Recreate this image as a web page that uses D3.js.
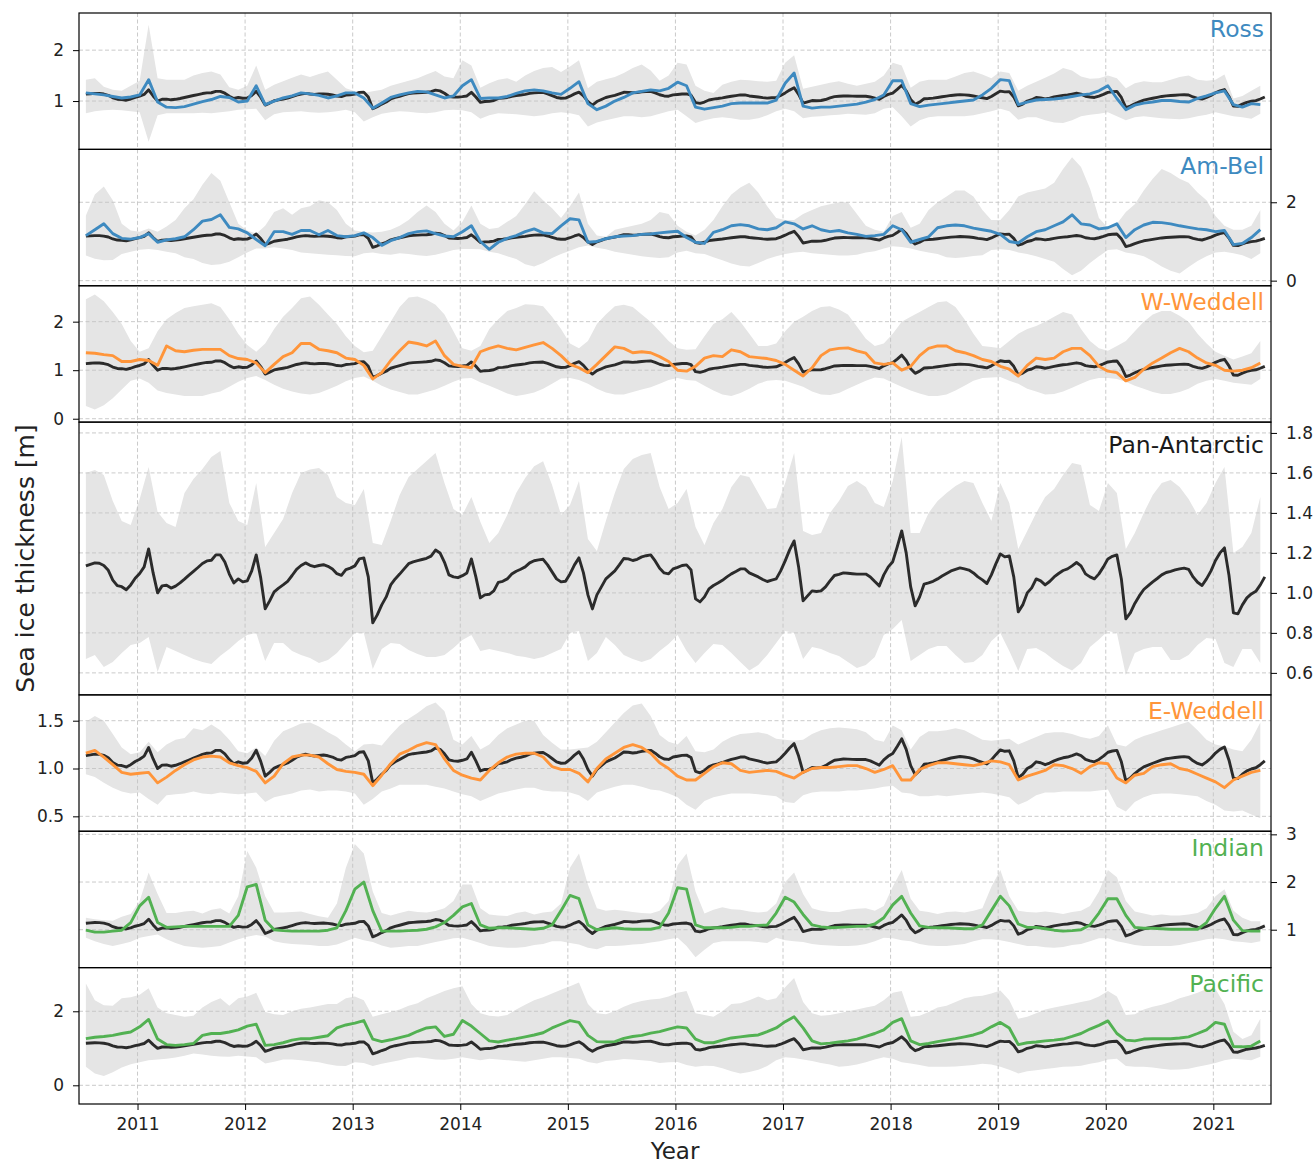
<!DOCTYPE html>
<html><head><meta charset="utf-8">
<script src="https://cdn.jsdelivr.net/npm/d3@7"></script>
<style>body{margin:0;background:#fff}</style>
</head><body><svg id="c" width="1316" height="1163"></svg>
<script>
// ---------- DATA ----------
const blackStart = 2010.52, blackStep = 1 / 24;   // semi-monthly Pan-Antarctic mean
const panAntarcticMean = [
1.135,1.143,1.15,1.148,1.137,1.113,1.064,1.036,1.031,1.016,
1.04,1.073,1.097,1.13,1.22,1.10,1.00,1.035,1.038,1.024,
1.034,1.05,1.069,1.089,1.108,1.127,1.147,1.16,1.163,1.19,
1.19,1.154,1.094,1.05,1.07,1.055,1.06,1.11,1.19,1.075,
0.92,0.96,1.005,1.024,1.04,1.058,1.087,1.118,1.137,1.15,
1.138,1.131,1.137,1.141,1.133,1.12,1.096,1.088,1.116,1.124,
1.135,1.17,1.175,1.08,0.85,0.89,0.94,0.98,1.04,1.07,
1.094,1.12,1.146,1.155,1.161,1.167,1.173,1.184,1.214,1.20,
1.153,1.09,1.08,1.076,1.086,1.10,1.17,1.08,0.975,0.99,
0.993,1.01,1.053,1.058,1.07,1.094,1.108,1.118,1.13,1.15,
1.161,1.165,1.168,1.14,1.105,1.07,1.055,1.058,1.095,1.14,
1.175,1.10,0.99,0.92,0.99,1.03,1.07,1.09,1.11,1.14,
1.172,1.17,1.162,1.168,1.18,1.186,1.19,1.16,1.123,1.10,
1.095,1.12,1.128,1.137,1.14,1.115,0.97,0.955,0.98,1.02,
1.037,1.049,1.063,1.08,1.095,1.107,1.12,1.12,1.10,1.09,
1.08,1.067,1.057,1.064,1.07,1.11,1.16,1.215,1.26,1.13,
0.96,0.985,1.01,1.007,1.01,1.03,1.06,1.087,1.093,1.10,
1.098,1.096,1.094,1.094,1.094,1.08,1.057,1.035,1.09,1.13,
1.156,1.23,1.31,1.20,1.03,0.935,0.98,1.044,1.05,1.058,
1.07,1.084,1.097,1.11,1.118,1.125,1.12,1.114,1.10,1.08,
1.065,1.047,1.09,1.145,1.195,1.18,1.185,1.08,0.905,0.94,
1.00,1.025,1.07,1.06,1.04,1.057,1.08,1.097,1.112,1.12,
1.135,1.152,1.135,1.095,1.08,1.07,1.095,1.13,1.17,1.183,
1.19,1.07,0.87,0.90,0.947,0.985,1.017,1.036,1.055,1.072,
1.09,1.102,1.108,1.115,1.12,1.124,1.118,1.08,1.053,1.037,
1.07,1.11,1.162,1.20,1.225,1.09,0.90,0.895,0.94,0.975,
0.995,1.008,1.04,1.08];

const regStart = 2010.52, regStep = 1 / 12;     // monthly regional series and spreads
const panAntarcticHigh = [
1.60,1.615,1.59,1.46,1.36,1.34,1.47,1.63,1.405,1.35,
1.33,1.50,1.57,1.62,1.68,1.71,1.45,1.36,1.34,1.55,
1.23,1.30,1.37,1.50,1.60,1.617,1.625,1.59,1.48,1.45,
1.44,1.52,1.25,1.24,1.36,1.49,1.58,1.62,1.66,1.70,
1.55,1.42,1.39,1.48,1.356,1.25,1.30,1.39,1.50,1.575,
1.633,1.658,1.54,1.39,1.44,1.56,1.27,1.21,1.36,1.50,
1.62,1.67,1.69,1.70,1.53,1.42,1.45,1.52,1.33,1.24,
1.35,1.42,1.53,1.59,1.58,1.50,1.42,1.425,1.55,1.70,
1.31,1.29,1.30,1.40,1.46,1.535,1.56,1.53,1.45,1.43,
1.56,1.78,1.30,1.30,1.40,1.46,1.50,1.535,1.56,1.55,
1.45,1.36,1.55,1.45,1.22,1.31,1.40,1.48,1.52,1.59,
1.65,1.64,1.44,1.41,1.55,1.50,1.22,1.30,1.40,1.49,
1.55,1.565,1.53,1.47,1.39,1.45,1.55,1.63,1.20,1.23,
1.30,1.48];
const panAntarcticLow = [
0.67,0.69,0.63,0.655,0.70,0.74,0.75,0.78,0.605,0.73,
0.71,0.69,0.67,0.655,0.645,0.686,0.72,0.76,0.79,0.80,
0.66,0.75,0.75,0.71,0.69,0.675,0.65,0.665,0.70,0.75,
0.80,0.80,0.62,0.72,0.75,0.745,0.715,0.694,0.68,0.68,
0.69,0.725,0.765,0.79,0.71,0.72,0.71,0.70,0.686,0.68,
0.67,0.68,0.70,0.72,0.80,0.81,0.66,0.70,0.78,0.74,
0.69,0.67,0.655,0.67,0.71,0.745,0.79,0.71,0.65,0.70,
0.745,0.74,0.70,0.655,0.612,0.64,0.69,0.75,0.81,0.80,
0.67,0.73,0.72,0.70,0.685,0.655,0.625,0.64,0.68,0.79,
0.82,0.865,0.66,0.69,0.72,0.735,0.735,0.69,0.65,0.655,
0.69,0.76,0.80,0.71,0.61,0.72,0.725,0.70,0.665,0.635,
0.612,0.65,0.73,0.767,0.81,0.80,0.59,0.70,0.72,0.73,
0.73,0.665,0.665,0.69,0.74,0.775,0.77,0.65,0.63,0.72,
0.72,0.65];

const rossMean = [
1.16,1.14,1.12,1.09,1.06,1.08,1.12,1.42,0.98,0.88,
0.87,0.89,0.94,0.99,1.03,1.09,1.07,0.98,1.00,1.30,
0.93,1.00,1.06,1.10,1.16,1.14,1.11,1.06,1.10,1.16,
1.16,1.06,0.86,0.96,1.07,1.12,1.16,1.19,1.18,1.12,
1.06,1.10,1.30,1.42,1.05,1.06,1.06,1.09,1.15,1.20,
1.22,1.20,1.16,1.13,1.25,1.38,0.95,0.83,0.90,1.00,
1.07,1.16,1.19,1.22,1.20,1.25,1.37,1.30,0.88,0.84,
0.87,0.90,0.95,0.96,0.96,0.96,0.96,1.02,1.35,1.55,
0.90,0.86,0.88,0.88,0.90,0.92,0.94,0.98,1.03,1.12,
1.40,1.40,0.95,0.89,0.92,0.94,0.96,0.98,1.00,1.02,
1.12,1.25,1.42,1.40,0.93,0.98,1.02,1.03,1.04,1.06,
1.09,1.12,1.14,1.20,1.30,1.05,0.83,0.92,0.96,0.98,
1.01,1.01,0.99,0.98,1.05,1.10,1.16,1.20,0.93,0.88,
0.95,0.93];
const rossHigh = [
1.42,1.45,1.28,1.22,1.20,1.30,1.40,2.50,1.45,1.42,
1.42,1.42,1.50,1.55,1.58,1.52,1.27,1.22,1.30,1.70,
1.22,1.32,1.39,1.46,1.52,1.47,1.53,1.58,1.42,1.25,
1.19,1.16,1.19,1.22,1.30,1.35,1.40,1.45,1.52,1.59,
1.48,1.45,1.80,1.70,1.26,1.35,1.42,1.45,1.38,1.50,
1.59,1.65,1.67,1.57,1.68,1.80,1.25,1.38,1.43,1.47,
1.55,1.65,1.72,1.60,1.40,1.50,1.75,1.72,1.30,1.20,
1.16,1.32,1.38,1.42,1.41,1.39,1.38,1.40,1.75,1.90,
1.24,1.28,1.32,1.36,1.39,1.34,1.30,1.34,1.38,1.50,
1.75,1.70,1.26,1.38,1.42,1.42,1.42,1.48,1.55,1.58,
1.52,1.45,1.58,1.55,1.20,1.30,1.38,1.46,1.54,1.65,
1.60,1.48,1.44,1.45,1.50,1.45,1.25,1.35,1.39,1.37,
1.37,1.42,1.47,1.50,1.42,1.40,1.42,1.52,1.05,1.10,
1.20,1.30];
const rossLow = [
0.76,0.80,0.82,0.83,0.82,0.80,0.78,0.20,0.72,0.76,
0.76,0.76,0.76,0.77,0.76,0.78,0.80,0.83,0.84,0.85,
0.62,0.74,0.78,0.79,0.80,0.78,0.77,0.78,0.80,0.83,
0.78,0.60,0.68,0.75,0.78,0.80,0.79,0.77,0.76,0.78,
0.82,0.83,0.82,0.78,0.65,0.72,0.76,0.75,0.74,0.72,
0.70,0.72,0.76,0.78,0.76,0.72,0.50,0.58,0.62,0.66,
0.70,0.70,0.68,0.70,0.75,0.80,0.83,0.70,0.57,0.62,
0.66,0.68,0.66,0.63,0.63,0.66,0.72,0.80,0.85,0.80,
0.66,0.69,0.70,0.72,0.73,0.75,0.74,0.73,0.76,0.85,
0.88,0.70,0.50,0.62,0.68,0.70,0.70,0.70,0.70,0.72,
0.76,0.80,0.85,0.80,0.63,0.68,0.68,0.62,0.58,0.57,
0.62,0.70,0.73,0.75,0.78,0.70,0.62,0.68,0.70,0.68,
0.66,0.65,0.64,0.66,0.70,0.73,0.78,0.74,0.70,0.68,
0.65,0.75];

const amBelMean = [
1.15,1.30,1.45,1.20,1.08,1.06,1.10,1.20,0.98,1.04,
1.07,1.12,1.30,1.52,1.56,1.68,1.36,1.32,1.22,1.05,
0.89,1.25,1.25,1.18,1.28,1.28,1.17,1.28,1.15,1.12,
1.15,1.22,1.10,0.90,1.02,1.10,1.20,1.25,1.27,1.20,
1.14,1.12,1.25,1.40,1.00,0.80,0.98,1.08,1.15,1.25,
1.32,1.22,1.20,1.40,1.58,1.55,0.98,1.00,1.07,1.12,
1.14,1.15,1.18,1.19,1.22,1.24,1.26,1.10,0.98,0.95,
1.23,1.30,1.40,1.43,1.40,1.32,1.30,1.35,1.50,1.45,
1.32,1.40,1.30,1.25,1.28,1.22,1.18,1.13,1.15,1.18,
1.40,1.30,0.98,1.05,1.12,1.35,1.40,1.42,1.40,1.34,
1.30,1.26,1.18,1.00,0.96,1.12,1.25,1.30,1.40,1.50,
1.68,1.45,1.42,1.32,1.35,1.45,1.10,1.30,1.42,1.49,
1.48,1.45,1.40,1.36,1.32,1.30,1.25,1.28,0.92,0.95,
1.10,1.30];
const amBelHigh = [
1.66,2.20,2.40,2.05,1.45,1.28,1.25,1.33,1.25,1.38,
1.55,1.85,2.08,2.45,2.75,2.55,2.00,1.45,1.28,1.20,
1.40,1.75,1.85,1.68,1.85,1.90,2.05,2.00,1.80,1.45,
1.28,1.25,1.23,1.25,1.30,1.40,1.55,1.75,1.92,1.75,
1.45,1.28,1.50,1.92,1.45,1.32,1.35,1.50,1.65,1.95,
2.28,2.05,1.85,1.60,1.90,2.25,1.45,1.15,1.12,1.30,
1.35,1.40,1.45,1.55,1.75,1.70,1.40,1.25,1.15,1.30,
1.55,1.90,2.20,2.38,2.50,2.25,1.90,1.60,1.55,1.55,
1.70,1.80,1.90,1.95,2.00,2.00,1.70,1.40,1.30,1.25,
1.65,1.75,1.35,1.45,1.80,2.00,2.15,2.30,2.30,2.15,
1.80,1.55,1.55,1.80,2.15,2.25,2.30,2.35,2.50,2.85,
3.15,2.90,2.35,1.60,1.35,1.45,1.75,1.95,2.30,2.60,
2.85,2.75,2.60,2.50,2.25,2.05,1.65,1.40,1.30,1.30,
1.40,1.80];
const amBelLow = [
0.64,0.56,0.52,0.53,0.68,0.74,0.79,0.81,0.78,0.74,
0.70,0.60,0.55,0.45,0.40,0.42,0.48,0.60,0.72,0.82,
0.82,0.85,0.82,0.78,0.72,0.70,0.68,0.66,0.65,0.63,
0.62,0.70,0.72,0.68,0.66,0.70,0.68,0.65,0.63,0.66,
0.72,0.78,0.81,0.81,0.80,0.74,0.70,0.62,0.55,0.42,
0.36,0.45,0.58,0.68,0.76,0.85,0.90,0.84,0.80,0.74,
0.70,0.66,0.62,0.60,0.58,0.60,0.72,0.76,0.70,0.68,
0.60,0.52,0.44,0.38,0.36,0.45,0.55,0.62,0.68,0.72,
0.74,0.70,0.68,0.66,0.64,0.64,0.66,0.72,0.75,0.82,
0.88,0.86,0.82,0.76,0.72,0.68,0.60,0.58,0.60,0.63,
0.65,0.78,0.80,0.78,0.72,0.68,0.62,0.55,0.48,0.30,
0.14,0.25,0.45,0.62,0.78,0.80,0.72,0.68,0.62,0.50,
0.36,0.25,0.18,0.35,0.50,0.62,0.72,0.74,0.70,0.65,
0.55,0.70];

const wWeddellMean = [
1.36,1.35,1.32,1.30,1.18,1.18,1.22,1.20,1.10,1.50,
1.40,1.38,1.41,1.43,1.43,1.43,1.30,1.24,1.22,1.15,
0.95,1.12,1.28,1.36,1.55,1.55,1.43,1.40,1.36,1.25,
1.22,1.10,0.82,0.95,1.20,1.40,1.58,1.55,1.50,1.60,
1.30,1.12,1.08,1.05,1.38,1.45,1.50,1.45,1.42,1.47,
1.52,1.57,1.45,1.30,1.12,1.05,0.95,1.12,1.30,1.48,
1.45,1.36,1.38,1.36,1.28,1.18,1.00,0.98,1.08,1.25,
1.30,1.28,1.42,1.38,1.28,1.26,1.24,1.20,1.12,1.00,
0.88,1.05,1.30,1.42,1.45,1.46,1.40,1.35,1.15,1.12,
1.15,1.00,1.08,1.30,1.45,1.50,1.50,1.40,1.36,1.30,
1.22,1.18,1.08,1.02,0.88,1.10,1.25,1.22,1.25,1.38,
1.45,1.45,1.30,1.08,0.98,0.95,0.78,0.85,1.02,1.15,
1.25,1.36,1.45,1.38,1.25,1.15,1.10,1.00,0.98,1.00,
1.05,1.15];
const wWeddellHigh = [
2.46,2.56,2.42,2.20,1.95,1.60,1.38,1.45,1.80,2.05,
2.18,2.28,2.32,2.35,2.38,2.30,2.05,1.75,1.52,1.38,
1.55,1.85,2.10,2.28,2.48,2.52,2.35,2.15,1.95,1.70,
1.50,1.37,1.40,1.70,2.00,2.30,2.50,2.52,2.45,2.35,
2.15,1.80,1.45,1.40,1.50,1.85,2.05,2.22,2.28,2.36,
2.35,2.32,2.10,1.85,1.55,1.45,1.60,1.95,2.15,2.32,
2.35,2.30,2.15,2.00,1.80,1.60,1.45,1.42,1.43,1.70,
1.95,2.05,2.20,2.00,1.75,1.50,1.50,1.55,1.80,2.00,
2.10,2.22,2.30,2.32,2.25,2.15,1.90,1.65,1.50,1.55,
1.75,2.00,2.10,2.20,2.30,2.40,2.42,2.30,2.05,1.75,
1.50,1.48,1.45,1.60,1.75,1.85,1.91,2.00,2.10,2.20,
2.15,1.85,1.60,1.45,1.40,1.50,1.60,1.80,2.00,2.15,
2.22,2.22,2.12,2.00,1.75,1.55,1.38,1.30,1.22,1.28,
1.35,1.60];
const wWeddellLow = [
0.26,0.19,0.28,0.42,0.60,0.78,0.83,0.74,0.58,0.53,
0.50,0.47,0.47,0.47,0.52,0.56,0.66,0.76,0.84,0.88,
0.80,0.70,0.62,0.56,0.52,0.50,0.53,0.60,0.68,0.77,
0.84,0.87,0.78,0.68,0.60,0.55,0.50,0.50,0.55,0.60,
0.68,0.76,0.83,0.84,0.75,0.68,0.60,0.52,0.47,0.50,
0.54,0.62,0.72,0.83,0.84,0.80,0.72,0.62,0.54,0.50,
0.50,0.55,0.60,0.65,0.72,0.80,0.84,0.80,0.78,0.68,
0.58,0.50,0.47,0.53,0.62,0.72,0.78,0.80,0.78,0.72,
0.66,0.56,0.50,0.49,0.53,0.62,0.70,0.78,0.85,0.83,
0.74,0.66,0.58,0.52,0.47,0.47,0.50,0.58,0.68,0.78,
0.84,0.85,0.86,0.78,0.72,0.62,0.56,0.50,0.51,0.56,
0.64,0.72,0.80,0.84,0.84,0.82,0.76,0.68,0.62,0.55,
0.51,0.51,0.55,0.62,0.72,0.78,0.82,0.78,0.74,0.72,
0.70,0.82];

const eWeddellMean = [
1.16,1.19,1.12,1.04,0.96,0.94,0.95,0.96,0.85,0.91,
0.98,1.04,1.09,1.12,1.13,1.12,1.06,1.03,1.01,0.97,
0.85,0.92,1.05,1.12,1.14,1.14,1.12,1.05,0.99,0.97,
0.96,0.94,0.82,0.93,1.05,1.15,1.19,1.24,1.27,1.25,
1.10,0.98,0.93,0.90,0.88,0.98,1.06,1.12,1.15,1.16,
1.16,1.12,1.02,0.99,0.99,0.95,0.86,1.00,1.10,1.16,
1.22,1.25,1.22,1.16,1.06,1.00,0.92,0.88,0.88,0.95,
1.02,1.06,1.05,0.98,0.96,0.97,0.98,0.97,0.93,0.90,
0.96,1.00,1.01,1.01,1.02,1.03,1.03,1.00,0.96,0.99,
1.03,0.88,0.88,0.99,1.03,1.06,1.06,1.05,1.04,1.03,
1.05,1.08,1.07,1.04,0.88,0.92,0.95,0.98,1.04,1.03,
1.00,0.95,1.02,1.06,1.05,0.90,0.85,0.93,0.95,1.02,
1.04,1.05,1.00,0.98,0.94,0.90,0.86,0.80,0.88,0.92,
0.96,0.98];
const eWeddellHigh = [
1.49,1.55,1.50,1.36,1.22,1.15,1.17,1.28,1.17,1.25,
1.30,1.32,1.42,1.40,1.46,1.40,1.30,1.18,1.16,1.22,
1.13,1.29,1.39,1.43,1.47,1.48,1.44,1.38,1.33,1.25,
1.18,1.25,1.26,1.24,1.35,1.45,1.52,1.58,1.65,1.69,
1.60,1.30,1.25,1.34,1.20,1.25,1.35,1.42,1.46,1.50,
1.50,1.35,1.27,1.20,1.20,1.21,1.22,1.28,1.38,1.48,
1.58,1.66,1.68,1.55,1.35,1.28,1.25,1.34,1.18,1.17,
1.20,1.28,1.33,1.36,1.37,1.38,1.36,1.31,1.30,1.29,
1.30,1.36,1.40,1.42,1.43,1.42,1.41,1.38,1.30,1.28,
1.45,1.40,1.20,1.33,1.39,1.39,1.40,1.42,1.40,1.35,
1.30,1.29,1.30,1.31,1.25,1.29,1.33,1.37,1.38,1.38,
1.36,1.33,1.31,1.34,1.45,1.25,1.23,1.30,1.34,1.37,
1.40,1.43,1.46,1.49,1.40,1.30,1.25,1.23,1.20,1.18,
1.30,1.48];
const eWeddellLow = [
0.94,0.91,0.85,0.80,0.76,0.74,0.75,0.68,0.62,0.72,
0.73,0.74,0.76,0.74,0.73,0.75,0.74,0.73,0.74,0.75,
0.65,0.70,0.72,0.74,0.77,0.78,0.76,0.77,0.77,0.76,
0.74,0.62,0.68,0.76,0.79,0.83,0.83,0.83,0.83,0.81,
0.79,0.76,0.73,0.71,0.66,0.70,0.74,0.76,0.78,0.80,
0.80,0.77,0.76,0.76,0.75,0.72,0.66,0.75,0.78,0.81,
0.83,0.83,0.81,0.78,0.77,0.74,0.70,0.62,0.57,0.66,
0.70,0.72,0.74,0.74,0.74,0.73,0.72,0.71,0.65,0.64,
0.72,0.75,0.76,0.76,0.76,0.77,0.77,0.78,0.79,0.81,
0.82,0.75,0.74,0.71,0.71,0.72,0.71,0.72,0.73,0.74,
0.75,0.74,0.72,0.70,0.62,0.66,0.72,0.75,0.75,0.76,
0.76,0.76,0.76,0.77,0.78,0.60,0.55,0.65,0.70,0.73,
0.74,0.74,0.73,0.72,0.71,0.66,0.62,0.56,0.55,0.56,
0.52,0.48];

const indianMean = [
0.99,0.95,0.95,0.97,0.99,1.15,1.50,1.68,1.15,1.05,
1.06,1.07,1.07,1.07,1.07,1.07,1.07,1.30,1.90,1.95,
1.20,1.00,0.98,0.97,0.97,0.97,0.97,0.99,1.04,1.40,
1.85,2.00,1.40,0.97,0.97,0.97,0.98,0.99,1.01,1.06,
1.15,1.30,1.48,1.55,1.10,1.03,1.04,1.04,1.03,1.02,
1.01,1.03,1.10,1.40,1.72,1.65,1.10,1.00,1.02,1.04,
1.02,1.01,1.01,1.01,1.05,1.35,1.88,1.85,1.10,1.04,
1.04,1.04,1.05,1.07,1.07,1.09,1.10,1.35,1.68,1.58,
1.32,1.10,1.06,1.04,1.05,1.06,1.07,1.07,1.12,1.25,
1.52,1.70,1.35,1.08,1.05,1.04,1.04,1.03,1.02,1.02,
1.10,1.40,1.70,1.50,1.12,1.05,1.05,1.02,0.99,0.97,
0.98,1.00,1.10,1.35,1.65,1.65,1.30,1.05,1.03,1.03,
1.02,1.01,1.01,1.01,1.01,1.15,1.45,1.70,1.20,0.98,
0.97,0.97];
const indianHigh = [
1.25,1.22,1.20,1.19,1.27,1.33,1.60,2.20,1.75,1.35,
1.35,1.38,1.40,1.34,1.42,1.45,1.34,1.70,2.65,2.30,
1.70,1.36,1.36,1.37,1.38,1.33,1.28,1.25,1.55,2.30,
2.80,2.60,1.80,1.35,1.30,1.35,1.40,1.37,1.36,1.39,
1.45,1.60,1.95,1.95,1.45,1.32,1.30,1.29,1.35,1.38,
1.32,1.36,1.38,1.55,2.30,2.60,1.95,1.45,1.40,1.42,
1.40,1.37,1.35,1.34,1.40,1.60,2.35,2.60,1.80,1.34,
1.42,1.47,1.43,1.42,1.38,1.36,1.38,1.55,2.00,2.20,
1.75,1.45,1.40,1.37,1.37,1.42,1.44,1.45,1.40,1.50,
1.90,2.25,1.65,1.40,1.37,1.33,1.37,1.38,1.36,1.40,
1.45,1.90,2.25,1.70,1.40,1.37,1.36,1.38,1.36,1.33,
1.37,1.40,1.50,1.80,2.25,2.10,1.60,1.38,1.34,1.30,
1.32,1.30,1.30,1.32,1.35,1.45,1.70,1.85,1.40,1.25,
1.18,1.18];
const indianLow = [
0.83,0.76,0.70,0.66,0.70,0.75,0.83,0.87,0.90,0.80,
0.72,0.66,0.64,0.62,0.64,0.66,0.73,0.80,0.85,0.89,
0.86,0.76,0.72,0.70,0.69,0.68,0.66,0.66,0.69,0.76,
0.83,0.78,0.74,0.67,0.62,0.64,0.66,0.66,0.70,0.74,
0.78,0.82,0.83,0.78,0.72,0.66,0.64,0.62,0.62,0.64,
0.68,0.70,0.76,0.76,0.72,0.69,0.62,0.59,0.66,0.66,
0.67,0.69,0.70,0.73,0.76,0.80,0.83,0.66,0.42,0.58,
0.72,0.76,0.76,0.76,0.76,0.74,0.72,0.83,0.78,0.76,
0.74,0.70,0.68,0.67,0.66,0.66,0.67,0.70,0.76,0.83,
0.82,0.78,0.76,0.70,0.67,0.66,0.66,0.68,0.70,0.76,
0.80,0.80,0.78,0.74,0.70,0.66,0.66,0.63,0.62,0.64,
0.68,0.70,0.76,0.82,0.82,0.76,0.72,0.68,0.66,0.66,
0.66,0.66,0.68,0.72,0.76,0.80,0.82,0.80,0.76,0.74,
0.72,0.76];

const pacificMean = [
1.26,1.30,1.32,1.35,1.40,1.44,1.58,1.78,1.25,1.10,
1.08,1.10,1.13,1.35,1.40,1.40,1.44,1.50,1.60,1.65,
1.08,1.10,1.15,1.22,1.26,1.26,1.30,1.34,1.55,1.63,
1.68,1.75,1.25,1.18,1.23,1.29,1.35,1.46,1.55,1.58,
1.32,1.38,1.75,1.60,1.40,1.20,1.17,1.22,1.26,1.31,
1.36,1.42,1.55,1.65,1.75,1.70,1.35,1.18,1.17,1.18,
1.27,1.32,1.35,1.41,1.45,1.52,1.58,1.55,1.25,1.15,
1.15,1.22,1.28,1.31,1.34,1.36,1.45,1.55,1.72,1.85,
1.55,1.20,1.12,1.14,1.17,1.20,1.25,1.32,1.40,1.50,
1.70,1.80,1.20,1.10,1.13,1.18,1.22,1.26,1.31,1.36,
1.44,1.58,1.70,1.55,1.10,1.15,1.17,1.20,1.22,1.25,
1.32,1.40,1.52,1.62,1.74,1.40,1.22,1.20,1.25,1.26,
1.26,1.26,1.28,1.31,1.40,1.50,1.70,1.65,1.05,1.04,
1.06,1.20];
const pacificHigh = [
2.75,2.30,2.16,2.15,2.35,2.38,2.45,2.62,2.10,1.95,
1.90,1.85,1.88,2.10,2.25,2.35,2.15,2.35,2.40,2.50,
1.98,1.92,1.90,2.00,2.07,2.10,2.15,2.20,2.20,2.35,
2.40,2.30,1.85,1.92,1.98,2.05,2.15,2.22,2.35,2.45,
2.55,2.62,2.68,2.20,1.95,1.88,1.86,1.90,2.05,2.18,
2.30,2.38,2.48,2.58,2.68,2.78,2.20,1.95,1.92,2.00,
2.12,2.22,2.28,2.32,2.34,2.40,2.50,2.55,1.95,1.90,
1.85,2.00,2.20,2.22,2.30,2.40,2.30,2.35,2.65,2.90,
2.25,1.95,1.88,1.90,1.95,2.00,2.05,2.10,2.15,2.30,
2.50,2.55,1.85,1.88,1.98,2.10,2.15,2.25,2.35,2.40,
2.42,2.48,2.56,2.30,1.80,1.85,1.95,2.05,2.10,2.15,
2.20,2.25,2.30,2.40,2.55,2.40,1.90,1.92,2.05,2.12,
2.18,2.25,2.35,2.42,2.50,2.60,2.60,2.20,1.45,1.25,
1.35,1.80];
const pacificLow = [
0.50,0.32,0.25,0.35,0.48,0.57,0.62,0.68,0.70,0.72,
0.75,0.80,0.86,0.83,0.80,0.78,0.77,0.80,0.78,0.76,
0.59,0.64,0.70,0.70,0.68,0.65,0.62,0.57,0.53,0.52,
0.62,0.60,0.52,0.58,0.63,0.68,0.74,0.76,0.73,0.70,
0.69,0.72,0.76,0.72,0.68,0.72,0.70,0.68,0.66,0.64,
0.68,0.72,0.76,0.76,0.74,0.72,0.63,0.59,0.66,0.68,
0.71,0.70,0.68,0.66,0.60,0.62,0.63,0.55,0.50,0.53,
0.52,0.46,0.38,0.32,0.36,0.42,0.52,0.68,0.76,0.74,
0.70,0.66,0.60,0.56,0.50,0.52,0.56,0.62,0.70,0.76,
0.72,0.62,0.59,0.55,0.50,0.50,0.50,0.51,0.53,0.55,
0.58,0.56,0.50,0.42,0.32,0.38,0.41,0.44,0.47,0.50,
0.51,0.53,0.58,0.62,0.70,0.72,0.52,0.50,0.50,0.48,
0.45,0.42,0.43,0.45,0.50,0.55,0.60,0.68,0.72,0.70,
0.68,0.77];

const regionNames = ["Ross", "Am-Bel", "W-Weddell", "Pan-Antarctic", "E-Weddell", "Indian", "Pacific"];
const yearTicks = [2011, 2012, 2013, 2014, 2015, 2016, 2017, 2018, 2019, 2020, 2021];
const rossTicks = [1, 2];
const amBelTicks = [0, 2];
const wWeddellTicks = [0, 1, 2];
const panAntarcticTicks = [0.6, 0.8, 1.0, 1.2, 1.4, 1.6, 1.8];
const eWeddellTicks = [0.5, 1.0, 1.5];
const indianTicks = [1, 2, 3];
const pacificTicks = [0, 2];

// ---------- LAYOUT / STYLE ----------
const FONT = '"DejaVu Sans", sans-serif';
const BLUE = "#3e8ac0", ORANGE = "#ff953a", GREEN = "#52b152", DARK = "#2b2b2b";
const L = 79, R = 1271, T = 13, B = 1104;
const unit = (B - T) / 8;
const svg = d3.select("#c");
const x = d3.scaleLinear().domain([2010.456, 2021.536]).range([L, R]);
const tBlack = i => blackStart + i * blackStep;
const tReg = i => regStart + i * regStep;
const fInt = d3.format("d"), f1 = d3.format(".1f");

const panels = [
  {name: regionNames[0], mean: rossMean, low: rossLow, high: rossHigh, color: BLUE, dom: [0.05, 2.73], ticks: rossTicks, fmt: fInt, side: "left", rows: 1},
  {name: regionNames[1], mean: amBelMean, low: amBelLow, high: amBelHigh, color: BLUE, dom: [-0.13, 3.35], ticks: amBelTicks, fmt: fInt, side: "right", rows: 1},
  {name: regionNames[2], mean: wWeddellMean, low: wWeddellLow, high: wWeddellHigh, color: ORANGE, dom: [-0.07, 2.74], ticks: wWeddellTicks, fmt: fInt, side: "left", rows: 1},
  {name: regionNames[3], mean: null, low: panAntarcticLow, high: panAntarcticHigh, color: "#1a1a1a", dom: [0.49, 1.854], ticks: panAntarcticTicks, fmt: f1, side: "right", rows: 2},
  {name: regionNames[4], mean: eWeddellMean, low: eWeddellLow, high: eWeddellHigh, color: ORANGE, dom: [0.344, 1.77], ticks: eWeddellTicks, fmt: f1, side: "left", rows: 1},
  {name: regionNames[5], mean: indianMean, low: indianLow, high: indianHigh, color: GREEN, dom: [0.205, 3.065], ticks: indianTicks, fmt: fInt, side: "right", rows: 1},
  {name: regionNames[6], mean: pacificMean, low: pacificLow, high: pacificHigh, color: GREEN, dom: [-0.505, 3.18], ticks: pacificTicks, fmt: fInt, side: "left", rows: 1}
];

let yTop = T;
panels.forEach((p, pi) => {
  const h = unit * p.rows;
  const y = d3.scaleLinear().domain(p.dom).range([yTop + h, yTop]);
  const g = svg.append("g");
  const cid = "clip" + pi;
  svg.append("clipPath").attr("id", cid).append("rect")
    .attr("x", L).attr("y", yTop).attr("width", R - L).attr("height", h);
  const plot = g.append("g").attr("clip-path", `url(#${cid})`);

  // spread band
  const band = d3.area()
    .x((d, i) => x(tReg(i)))
    .y0((d, i) => y(p.low[i]))
    .y1(d => y(d));
  plot.append("path").datum(p.high).attr("d", band).attr("fill", "#e5e5e5");

  // grid
  plot.selectAll(".vg").data(yearTicks).join("line")
    .attr("x1", d => x(d)).attr("x2", d => x(d)).attr("y1", yTop).attr("y2", yTop + h)
    .attr("stroke", "#c4c4c4").attr("stroke-width", 0.9).attr("stroke-dasharray", "4,2.5");
  plot.selectAll(".hg").data(p.ticks).join("line")
    .attr("x1", L).attr("x2", R).attr("y1", d => y(d)).attr("y2", d => y(d))
    .attr("stroke", "#c4c4c4").attr("stroke-width", 0.9).attr("stroke-dasharray", "4,2.5");

  // Pan-Antarctic mean
  const blackLine = d3.line().x((d, i) => x(tBlack(i))).y(d => y(d));
  plot.append("path").datum(panAntarcticMean).attr("d", blackLine)
    .attr("fill", "none").attr("stroke", DARK).attr("stroke-width", 2.9).attr("stroke-linejoin", "round");

  // regional mean
  if (p.mean) {
    const regLine = d3.line().x((d, i) => x(tReg(i))).y(d => y(d));
    plot.append("path").datum(p.mean).attr("d", regLine)
      .attr("fill", "none").attr("stroke", p.color).attr("stroke-width", 2.9).attr("stroke-linejoin", "round");
  }

  // frame
  g.append("rect").attr("x", L).attr("y", yTop).attr("width", R - L).attr("height", h)
    .attr("fill", "none").attr("stroke", "#000").attr("stroke-width", 1.2);

  // y axis
  const ax = (p.side === "left" ? d3.axisLeft(y) : d3.axisRight(y))
    .tickValues(p.ticks).tickFormat(p.fmt).tickSize(6).tickPadding(9);
  const ag = g.append("g").attr("transform", `translate(${p.side === "left" ? L : R},0)`).call(ax);
  ag.select(".domain").remove();
  ag.selectAll("text").attr("font-family", FONT).attr("font-size", 17).attr("fill", "#222");
  ag.selectAll("line").attr("stroke", "#000");

  // region label (top of text at 5% below the panel top)
  g.append("text").attr("x", R - 7).attr("y", yTop + 0.05 * h + 17.5).attr("text-anchor", "end")
    .attr("font-family", FONT).attr("font-size", 23.5).attr("fill", p.color).text(p.name);

  yTop += h;
});

// x axis
const xa = d3.axisBottom(x).tickValues(yearTicks).tickFormat(fInt).tickSize(6).tickPadding(8);
const xg = svg.append("g").attr("transform", `translate(0,${B})`).call(xa);
xg.select(".domain").remove();
xg.selectAll("text").attr("font-family", FONT).attr("font-size", 17).attr("fill", "#222");
xg.selectAll("line").attr("stroke", "#000");

svg.append("text").attr("x", (L + R) / 2).attr("y", 1159).attr("text-anchor", "middle")
  .attr("font-family", FONT).attr("font-size", 23).attr("fill", "#222").text("Year");
svg.append("text").attr("transform", `translate(34,${(T + B) / 2}) rotate(-90)`).attr("text-anchor", "middle")
  .attr("font-family", FONT).attr("font-size", 25).attr("fill", "#222").text("Sea ice thickness [m]");
</script></body></html>
